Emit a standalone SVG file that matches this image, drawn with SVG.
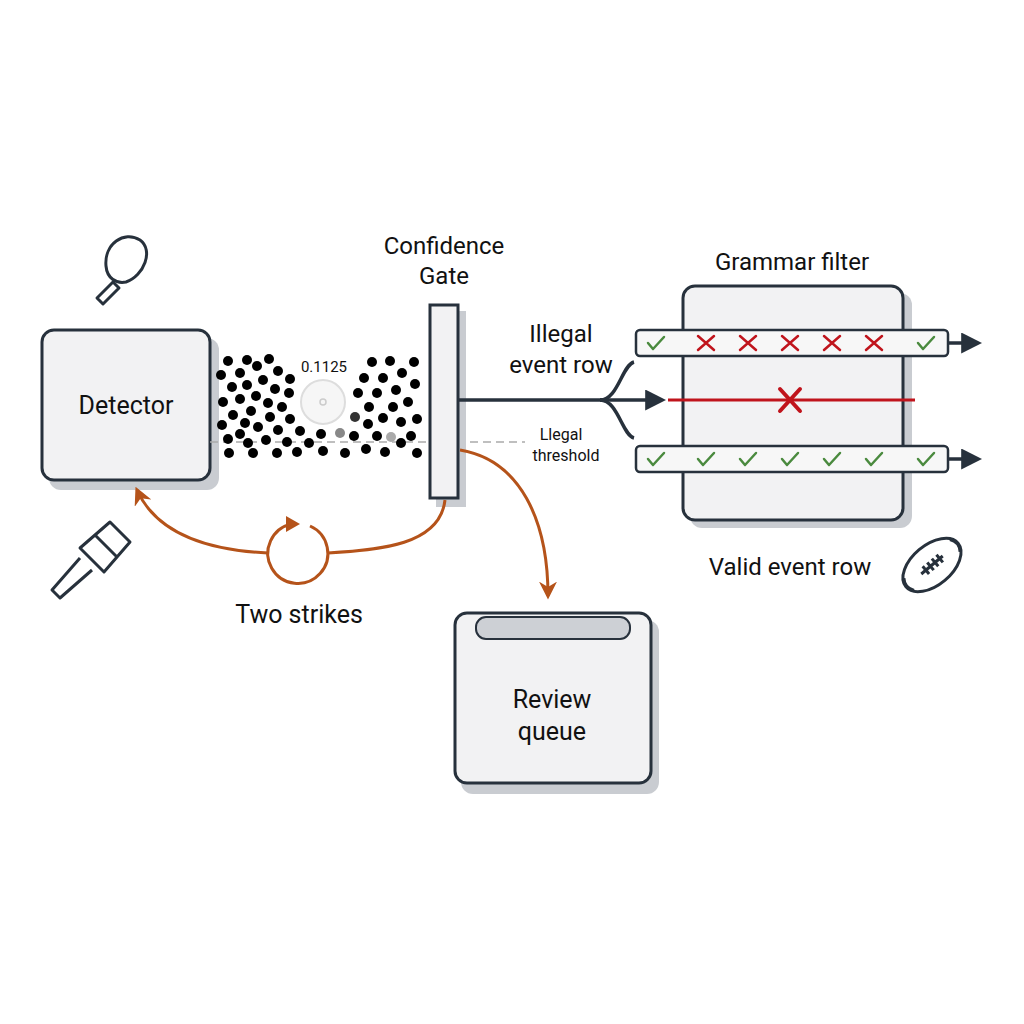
<svg xmlns="http://www.w3.org/2000/svg" width="1024" height="1024" viewBox="0 0 1024 1024">
<defs>
<style>
.t{font-family:Roboto,"Liberation Sans",Arial,sans-serif;fill:#111}
.box{fill:#f2f2f3;stroke:#27313c;stroke-width:3}
.sh{fill:#c9ccd1}
.dk{fill:none;stroke:#27313c;stroke-width:3.5}
.or{fill:none;stroke:#b5531a;stroke-width:3}
.row{fill:#f7f7f7;stroke:#27313c;stroke-width:2.5}
.ck{fill:none;stroke:#4a8a3e;stroke-width:2.5;stroke-linecap:round;stroke-linejoin:round}
.x{fill:none;stroke:#c0141c;stroke-width:2.5;stroke-linecap:round}
.ic{fill:none;stroke:#27313c;stroke-width:3;stroke-linejoin:round}
</style>
<marker id="ad" viewBox="0 0 10 10" refX="8" refY="5" markerWidth="6" markerHeight="6" orient="auto"><path d="M0,0L10,5L0,10z" fill="#27313c"/></marker>
<marker id="ao" viewBox="0 0 10 10" refX="8" refY="5" markerWidth="6" markerHeight="6" orient="auto"><path d="M0,0L10,5L0,10L3,5z" fill="#b5531a"/></marker>
<path id="c" d="M-8,0L-3,6L8,-6"/>
<path id="xx" d="M-8,-7L8,7M8,-7L-8,7"/>
</defs>
<rect width="1024" height="1024" fill="#fff"/>

<g id="icons">
<path class="ic" d="M140,240c-16,-10,-36,4,-34,26c1,12,10,18,20,16c18,-6,28,-32,14,-42z" fill="#f4f4f4"/>
<path class="ic" d="M113,282l-16,16l6,6l16,-16z"/>
<path class="ic" d="M110,522l20,20l-26,30l-24,-24z" fill="#f4f4f4"/>
<path class="ic" d="M95,535l22,22"/>
<path class="ic" d="M80,558l-28,32l8,8l32,-28"/>
<g transform="translate(932,565) rotate(-40)"><ellipse class="ic" rx="34" ry="20"/><path class="ic" d="M-14,0h28M-8,-5v10M-2,-5v10M4,-5v10M10,-5v10M-30,-8q-6,8,0,16M30,-8q6,8,0,16"/></g>
</g>

<g id="detector">
<rect class="sh" x="49" y="338" width="170" height="152" rx="12"/>
<rect class="box" x="42" y="330" width="168" height="150" rx="12"/>
<text class="t" x="126" y="414" font-size="25" text-anchor="middle">Detector</text>
</g>

<g id="dots" fill="#000">
<line x1="210" y1="442" x2="525" y2="442" stroke="#aaa" stroke-width="1.5" stroke-dasharray="8,5"/>
<g>
<circle cx="228" cy="361" r="5"/><circle cx="247" cy="360" r="5"/><circle cx="257" cy="366" r="5"/><circle cx="269" cy="359" r="5"/><circle cx="221" cy="375" r="5"/><circle cx="240" cy="373" r="5"/><circle cx="278" cy="371" r="5"/><circle cx="290" cy="379" r="5"/><circle cx="232" cy="387" r="5"/><circle cx="247" cy="385" r="5"/><circle cx="263" cy="380" r="5"/><circle cx="275" cy="389" r="5"/><circle cx="289" cy="393" r="5"/><circle cx="223" cy="402" r="5"/><circle cx="240" cy="399" r="5"/><circle cx="256" cy="396" r="5"/><circle cx="268" cy="403" r="5"/><circle cx="282" cy="407" r="5"/><circle cx="233" cy="415" r="5"/><circle cx="251" cy="411" r="5"/><circle cx="270" cy="417" r="5"/><circle cx="290" cy="419" r="5"/><circle cx="222" cy="425" r="5"/><circle cx="245" cy="423" r="5"/><circle cx="258" cy="427" r="5"/><circle cx="278" cy="430" r="5"/><circle cx="300" cy="431" r="5"/><circle cx="228" cy="439" r="5"/><circle cx="240" cy="434" r="5"/><circle cx="248" cy="443" r="5"/><circle cx="266" cy="440" r="5"/><circle cx="287" cy="442" r="5"/><circle cx="309" cy="443" r="5"/><circle cx="321" cy="434" r="5"/><circle cx="229" cy="453" r="5"/><circle cx="253" cy="453" r="5"/><circle cx="277" cy="453" r="5"/><circle cx="297" cy="452" r="5"/><circle cx="323" cy="451" r="5"/><circle cx="345" cy="453" r="5"/><circle cx="366" cy="449" r="5"/><circle cx="385" cy="452" r="5"/><circle cx="401" cy="443" r="5"/><circle cx="417" cy="453" r="5"/><circle cx="354" cy="436" r="5"/><circle cx="377" cy="436" r="5"/><circle cx="411" cy="436" r="5"/><circle cx="368" cy="424" r="5"/><circle cx="383" cy="418" r="5"/><circle cx="401" cy="422" r="5"/><circle cx="417" cy="419" r="5"/><circle cx="369" cy="407" r="5"/><circle cx="393" cy="407" r="5"/><circle cx="408" cy="402" r="5"/><circle cx="358" cy="393" r="5"/><circle cx="377" cy="393" r="5"/><circle cx="396" cy="390" r="5"/><circle cx="415" cy="384" r="5"/><circle cx="364" cy="378" r="5"/><circle cx="383" cy="378" r="5"/><circle cx="402" cy="373" r="5"/><circle cx="372" cy="362" r="5"/><circle cx="390" cy="361" r="5"/><circle cx="414" cy="362" r="5"/>
<circle cx="355" cy="417" r="5" fill="#333"/><circle cx="340" cy="433" r="5" fill="#888"/><circle cx="391" cy="437" r="5" fill="#aaa"/>
</g>
<circle cx="323" cy="402" r="22" fill="#f6f6f6" stroke="#ddd" stroke-width="2"/>
<circle cx="323" cy="402" r="3" fill="none" stroke="#ccc" stroke-width="1.5"/>
<text class="t" x="324" y="372" font-size="15" text-anchor="middle" fill="#222">0.1125</text>
</g>

<g id="gate">
<rect class="sh" x="436" y="311" width="30" height="196"/>
<rect class="box" x="430" y="305" width="28" height="193" stroke-width="2.5"/>
<text class="t" x="444" y="254" font-size="24" text-anchor="middle">Confidence</text>
<text class="t" x="444" y="284" font-size="24" text-anchor="middle">Gate</text>
<text class="t" x="561" y="440" font-size="16" text-anchor="middle">Llegal</text>
<text class="t" x="566" y="461" font-size="16" text-anchor="middle">threshold</text>
</g>

<g id="grammar">
<rect class="sh" x="690" y="293" width="222" height="235" rx="12"/>
<rect class="box" x="683" y="286" width="220" height="234" rx="12"/>
<text class="t" x="792" y="270" font-size="24" text-anchor="middle">Grammar filter</text>
<text class="t" x="561" y="342" font-size="24" text-anchor="middle">Illegal</text>
<text class="t" x="561" y="373" font-size="24" text-anchor="middle">event row</text>
<text class="t" x="790" y="575" font-size="24" text-anchor="middle">Valid event row</text>
<rect class="row" x="636" y="330" width="312" height="26" rx="4"/>
<rect class="row" x="636" y="446" width="312" height="26" rx="4"/>
<g class="ck"><use href="#c" x="656" y="343"/><use href="#c" x="926" y="343"/>
<use href="#c" x="656" y="459"/><use href="#c" x="706" y="459"/><use href="#c" x="748" y="459"/><use href="#c" x="790" y="459"/><use href="#c" x="832" y="459"/><use href="#c" x="874" y="459"/><use href="#c" x="926" y="459"/></g>
<g class="x"><use href="#xx" x="706" y="343"/><use href="#xx" x="748" y="343"/><use href="#xx" x="790" y="343"/><use href="#xx" x="832" y="343"/><use href="#xx" x="874" y="343"/></g>
<line x1="668" y1="400" x2="915" y2="400" stroke="#c0141c" stroke-width="3"/>
<path d="M780,389L800,411M800,389L780,411" stroke="#c0141c" stroke-width="4" stroke-linecap="round"/>
</g>

<g id="review">
<rect class="sh" x="461" y="620" width="198" height="174" rx="12"/>
<rect class="box" x="455" y="613" width="196" height="170" rx="12"/>
<rect x="476" y="617" width="154" height="22" rx="10" fill="#cdd0d5" stroke="#27313c" stroke-width="2"/>
<text class="t" x="552" y="708" font-size="25" text-anchor="middle">Review</text>
<text class="t" x="552" y="740" font-size="25" text-anchor="middle">queue</text>
</g>

<g id="connectors">
<path class="dk" d="M458,400H600"/>
<path class="dk" d="M600,400C618,400,622,365,634,362"/>
<path class="dk" d="M600,400H662" marker-end="url(#ad)"/>
<path class="dk" d="M600,400C618,400,622,435,634,438"/>
<path class="dk" d="M948,343H978" marker-end="url(#ad)"/>
<path class="dk" d="M948,459H978" marker-end="url(#ad)"/>
<path class="or" d="M445,500C440,545,380,550,328,553"/>
<path class="or" d="M268,553C200,550,155,530,137,490" marker-end="url(#ao)"/>
<path class="or" d="M292,524A30,30,0,1,0,310,526"/>
<path d="M286,516L300,524L286,532z" fill="#b5531a"/>
<path class="or" d="M460,450C520,460,548,520,548,596" marker-end="url(#ao)"/>
<text class="t" x="299" y="623" font-size="25" text-anchor="middle">Two strikes</text>
</g>
</svg>
